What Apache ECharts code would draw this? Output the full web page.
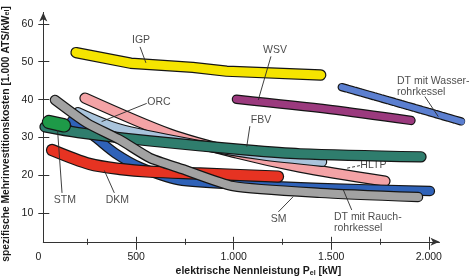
<!DOCTYPE html>
<html><head><meta charset="utf-8">
<script src="https://cdn.jsdelivr.net/npm/echarts@6/dist/echarts.min.js"></script>
<style>html,body{margin:0;padding:0;background:#fff}#c{width:470px;height:280px}</style>
</head><body><div id="c"></div>
<script>
// x: elektrische Nennleistung [kW]; y: spezifische Mehrinvestitionskosten [1.000 ATS/kWel]
const IGP  = [[192,52.4],[472,49.6],[790,48.5],[964,47.5],[1446,46.5]];
const WSV  = [[1014,40.1],[1494,37.4],[1909,34.5]];
const DTW  = [[1554,43.3],[1868,38.7],[2169,34.2]];
const HLTP = [[238,40.4],[674,30.9],[1017,25.9],[1340,22.2],[1775,18.5]];
const ORC  = [[202,36.7],[412,32.4],[827,28.0],[1135,25.4],[1453,23.6]];
const FBV  = [[33,32.8],[202,31.3],[571,29.1],[1068,26.7],[1340,25.7],[1960,24.9]];
const STM  = [[53,34.1],[130,33.2]];
const SM   = [[84,39.9],[248,33.8],[417,29.4],[571,24.6],[735,21.7],[996,17.2],[1443,15.4],[1945,14.3]];
const DTR  = [[171,34.4],[289,30.1],[392,25.9],[520,22.2],[715,18.8],[1084,17.5],[1442,16.7],[2006,15.9]];
const DKM  = [[69,26.7],[263,23.0],[417,21.7],[571,21.0],[827,20.5],[1227,19.7]];
const dots = [[472,49.6],[1014,40.1],[238,40.4],[1775,18.5],[412,32.4],[202,31.3],[70,34.0],[566,20.8],[734,21.6],[716,18.8]];

const yTicks = [10,20,30,40,50,60];
const xMajor = [500,1000,1500,2000];
const xMinor = [250,750,1250,1750];

const labelText = ['IGP','WSV','FBV','ORC','HLTP','STM','DKM','SM','DT mit Rauch-\nrohrkessel','DT mit Wasser-\nrohrkessel'];
const labelAt   = [[525,55.6],[1212,53.0],[1140,34.5],[617,39.4],[1716,22.6],[135,13.5],[404,13.5],[1230,8.5],[1514,7.5],[1837,43.4]];
const leaderLines = [
  [[520,53.9],[550,49.7]],
  [[1191,51.4],[1126,39.9]],
  [[1083,33.0],[1067,27.6]],
  [[554,39.0],[323,34.2]],
  [[1647,22.6],[1579,21.9]],
  [[120,15.4],[97,32.0]],
  [[388,15.4],[337,21.3]],
  [[1229,10.4],[1305,14.4]],
  [[1605,10.9],[1562,16.2]],
  [[1980,40.8],[2049,35.5]]
];

const FONT = 'Liberation Sans, Arial, Helvetica, sans-serif';
const TXT = '#1a1a1a', AX = '#333';
const X_MIN = 24, X_MAX = 2055, X_MAX2 = 2200, Y_MIN = 2.5, Y_MAX = 63;
const G_LEFT = 43.3, G_TOP = 12.4, G_BOTTOM = 38.2, G_RIGHT = 30.5;
const PX_PER_KW = (470 - G_LEFT - G_RIGHT) / (X_MAX - X_MIN);
const G2_RIGHT = 470 - G_LEFT - (X_MAX2 - X_MIN) * PX_PER_KW;

function fmtX(v){
  if (v < 100) return '{z|0}';
  return v >= 1000 ? Math.floor(v/1000) + '.' + String(v%1000).padStart(3,'0') : String(v);
}

const bands = [
  {d:HLTP, c:'#f4a3a6', w:9, s:0.3},
  {d:ORC,  c:'#a9c4dc', w:8, s:0.3},
  {d:DTR,  c:'#2f62b8', w:8, s:0.3},
  {d:FBV,  c:'#2f7d6d', w:9, s:0.3},
  {d:DKM,  c:'#e63322', w:10, s:0.3},
  {d:SM,   c:'#a2a2a2', w:8, s:0.2},
  {d:STM,  c:'#1e9a48', w:12, s:false},
  {d:IGP,  c:'#f5e400', w:9, s:false},
  {d:WSV,  c:'#9b3a7e', w:7, s:0.3},
  {d:DTW,  c:'#5b7fd0', w:6, s:0.3, dash:true, g:1}
];

const series = [];
bands.forEach(b => {
  const gi = b.g || 0;
  series.push({type:'line', data:b.d, symbol:'none', smooth:b.s, clip:false, silent:true,
    xAxisIndex: gi ? 4 : 0, yAxisIndex: gi ? 2 : 0,
    lineStyle:{color:'#151515', width:b.w+2.4, cap:'round', join:'round', type:b.dash?[5,2]:'solid'}});
  series.push({type:'line', data:b.d, symbol:'none', smooth:b.s, clip:false, silent:true,
    xAxisIndex: gi ? 4 : 0, yAxisIndex: gi ? 2 : 0,
    lineStyle:{color:b.c, width:b.w, cap:'round', join:'round'}});
});
series.push({type:'scatter', data:dots, symbol:'circle', symbolSize:6, clip:false, silent:true,
  itemStyle:{color:'#1a1a1a'}});
leaderLines.forEach((l,i) => {
  series.push({type:'line', data:l, symbol:'none', clip:false, silent:true,
    lineStyle:{color:'#2a2a2a', width:0.9, type: labelText[i]==='HLTP' ? [3,2] : 'solid'}});
});
series.push({type:'scatter', symbolSize:0, clip:false, silent:true,
  data: labelAt.map((p,i) => ({value:p, label:{align: labelText[i].startsWith('DT') ? 'left' : 'center'}})),
  label:{show:true, position:[0,0], verticalAlign:'middle', fontSize:10.5, lineHeight:11.5,
    fontFamily:FONT, color:TXT, formatter:p => labelText[p.dataIndex]}});

const baseX = {type:'value', min:X_MIN, max:X_MAX, position:'bottom', gridIndex:0, splitLine:{show:false},
  axisLine:{show:false,onZero:false}, axisLabel:{show:false}, axisTick:{show:false}};
const baseY = {type:'value', min:Y_MIN, max:Y_MAX, position:'left', gridIndex:0, splitLine:{show:false},
  axisLine:{show:false,onZero:false}, axisLabel:{show:false}, axisTick:{show:false}};

const option = {
  animation:false,
  grid:[
    {left:G_LEFT, right:G_RIGHT, top:G_TOP, bottom:G_BOTTOM, containLabel:false, outerBoundsMode:'none'},
    {left:G_LEFT, right:G2_RIGHT, top:G_TOP, bottom:G_BOTTOM, containLabel:false, outerBoundsMode:'none'}
  ],
  xAxis:[
    Object.assign({}, baseX, {
      axisLine:{show:true,onZero:false,symbol:['none','arrow'],symbolSize:[6,9],lineStyle:{color:AX,width:1}},
      axisTick:{show:true,length:8,customValues:xMajor,lineStyle:{color:AX}},
      axisLabel:{show:true,customValues:[X_MIN].concat(xMajor),formatter:fmtX,margin:10,fontSize:10.5,fontFamily:FONT,color:TXT,
        rich:{z:{padding:[0,10,0,0],fontSize:10.5,fontFamily:FONT,color:TXT}}},
      name:'elektrische Nennleistung P{sub|el} [kW]', nameLocation:'middle', nameGap:24, nameMoveOverlap:false,
      nameTextStyle:{fontSize:10.5,fontWeight:'bold',fontFamily:FONT,color:TXT,padding:[0,0,0,34],
        rich:{sub:{fontSize:7,fontWeight:'bold',fontFamily:FONT,color:TXT,verticalAlign:'bottom'}}}
    }),
    Object.assign({}, baseX, {axisTick:{show:true,inside:true,length:5,customValues:xMajor,lineStyle:{color:AX}}}),
    Object.assign({}, baseX, {axisTick:{show:true,length:3,customValues:xMinor,lineStyle:{color:AX}}}),
    Object.assign({}, baseX, {axisTick:{show:true,inside:true,length:3,customValues:xMinor,lineStyle:{color:AX}}}),
    Object.assign({}, baseX, {gridIndex:1, max:X_MAX2})
  ],
  yAxis:[
    Object.assign({}, baseY, {
      axisLine:{show:true,onZero:false,symbol:['none','arrow'],symbolSize:[6,9],lineStyle:{color:AX,width:1}},
      axisTick:{show:true,length:5,customValues:yTicks,lineStyle:{color:AX}},
      axisLabel:{show:true,customValues:yTicks,margin:10,fontSize:10.5,fontFamily:FONT,color:TXT}
    }),
    Object.assign({}, baseY, {axisTick:{show:true,inside:true,length:6,customValues:yTicks,lineStyle:{color:AX}}}),
    Object.assign({}, baseY, {gridIndex:1})
  ],
  graphic:[{
    type:'text', x:6, y:134, rotation:Math.PI/2, silent:true,
    style:{text:'spezifische Mehrinvestitionskosten [1.000 ATS/kW{sub|el}]', align:'center', verticalAlign:'middle',
      fontSize:10.3, fontWeight:'bold', fontFamily:FONT, fill:TXT,
      rich:{sub:{fontSize:7, fontWeight:'bold', fontFamily:FONT, fill:TXT, verticalAlign:'bottom'}}}
  }],
  series: series
};
const chart = echarts.init(document.getElementById('c'));
chart.setOption(option);
</script></body></html>
